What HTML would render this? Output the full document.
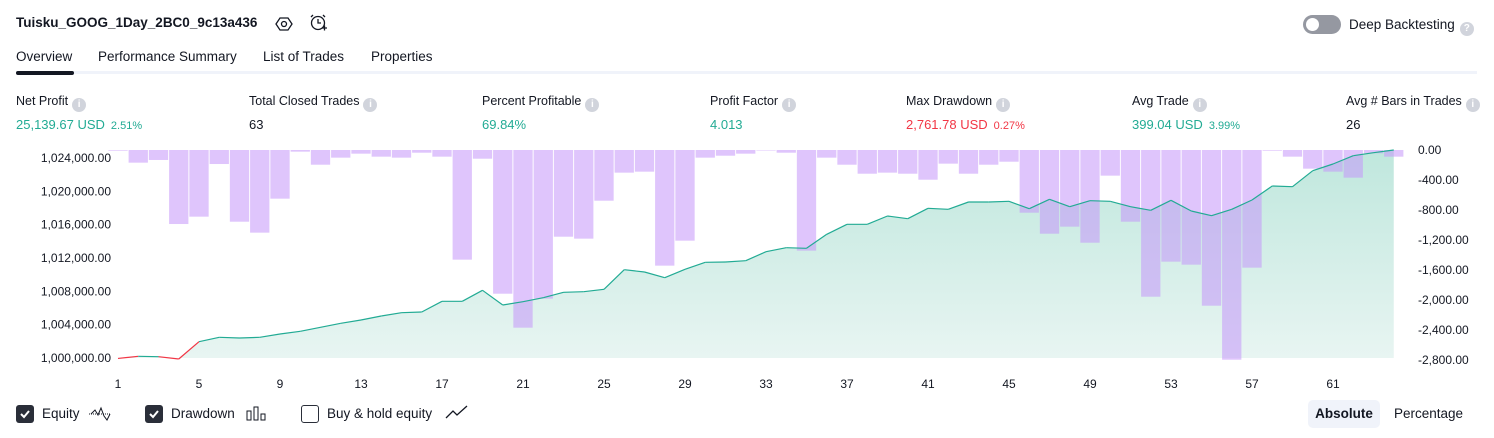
<!DOCTYPE html>
<html><head><meta charset="utf-8">
<style>
*{box-sizing:border-box;margin:0;padding:0}
body{width:1494px;height:438px;background:#fff;font-family:"Liberation Sans",sans-serif;color:#131722;position:relative;overflow:hidden}
.a{position:absolute;white-space:nowrap}
.lbl{font-size:12.5px}
.val{font-size:13px}
.g{color:#22ab94}.r{color:#f23645}
.sm{font-size:11px;margin-left:6px}
.info{display:inline-block;width:14px;height:14px;border-radius:50%;background:#d1d4dc;color:#fff;font-size:10px;font-weight:bold;text-align:center;line-height:14px;vertical-align:-2px;margin-left:4px}
.tab{font-size:13.5px;top:49px}
.cb{width:18px;height:18px;border-radius:3px;top:405px}
.ax{font-size:12px}
</style></head><body>
<div class="a" style="left:16px;top:15px;font-size:13.5px;font-weight:bold">Tuisku_GOOG_1Day_2BC0_9c13a436</div>
<svg class="a" style="left:275px;top:15px" width="18" height="18" viewBox="0 0 18 18"><path d="M5 3h8l4 6-4 6H5L1 9z" fill="none" stroke="#131722" stroke-width="1.3"/><circle cx="9" cy="9" r="2.5" fill="none" stroke="#131722" stroke-width="1.3"/></svg>
<svg class="a" style="left:308px;top:13px" width="20" height="20" viewBox="0 0 20 20"><circle cx="10" cy="10" r="6.5" fill="none" stroke="#131722" stroke-width="1.3"/><path d="M10 6v4h3M3 4l2-2M17 4l-2-2M14 15h5M16.5 12.5v5" stroke="#131722" stroke-width="1.3" fill="none"/></svg>
<div class="a" style="left:1303px;top:15px;width:38px;height:19px;border-radius:10px;background:#9598a1"><div style="position:absolute;left:3px;top:3px;width:13px;height:13px;border-radius:50%;background:#fff"></div></div>
<div class="a" style="left:1349px;top:17px;font-size:13.5px">Deep Backtesting<span class="info" style="margin-left:5px">?</span></div>
<div class="a tab" style="left:16px">Overview</div>
<div class="a tab" style="left:98px">Performance Summary</div>
<div class="a tab" style="left:263px">List of Trades</div>
<div class="a tab" style="left:371px">Properties</div>
<div class="a" style="left:16px;top:71px;width:1461px;height:3px;background:#f0f3fa"></div>
<div class="a" style="left:16px;top:71px;width:58px;height:4px;border-radius:2px;background:#131722"></div>

<div class="a" style="left:16px;top:94px"><div class="lbl">Net Profit<span class="info">i</span></div><div class="val g" style="margin-top:5px">25,139.67 USD<span class="sm">2.51%</span></div></div>
<div class="a" style="left:249px;top:94px"><div class="lbl">Total Closed Trades<span class="info">i</span></div><div class="val" style="margin-top:5px">63</div></div>
<div class="a" style="left:482px;top:94px"><div class="lbl">Percent Profitable<span class="info">i</span></div><div class="val g" style="margin-top:5px">69.84%</div></div>
<div class="a" style="left:710px;top:94px"><div class="lbl">Profit Factor<span class="info">i</span></div><div class="val g" style="margin-top:5px">4.013</div></div>
<div class="a" style="left:906px;top:94px"><div class="lbl">Max Drawdown<span class="info">i</span></div><div class="val r" style="margin-top:5px">2,761.78 USD<span class="sm">0.27%</span></div></div>
<div class="a" style="left:1132px;top:94px"><div class="lbl">Avg Trade<span class="info">i</span></div><div class="val g" style="margin-top:5px">399.04 USD<span class="sm">3.99%</span></div></div>
<div class="a" style="left:1346px;top:94px"><div class="lbl">Avg # Bars in Trades<span class="info">i</span></div><div class="val" style="margin-top:5px">26</div></div>

<svg id="chart" class="a" style="left:0;top:0" width="1494" height="438"></svg>

<div class="a cb" style="left:16px;background:#2a2e39"><svg width="18" height="18"><path d="M5 9l3 3 5-6" stroke="#fff" stroke-width="2" fill="none"/></svg></div>
<div class="a" style="left:42px;top:406px;font-size:13.5px">Equity</div>
<svg class="a" style="left:88px;top:405px" width="24" height="16"><path d="M1 9h22" stroke="#131722" stroke-dasharray="1 1"/><path d="M3 9l4-4 3 5 3-7 3 8 3 4 3-6" stroke="#131722" fill="none"/></svg>
<div class="a cb" style="left:145px;background:#2a2e39"><svg width="18" height="18"><path d="M5 9l3 3 5-6" stroke="#fff" stroke-width="2" fill="none"/></svg></div>
<div class="a" style="left:171px;top:406px;font-size:13.5px">Drawdown</div>
<svg class="a" style="left:246px;top:405px" width="20" height="16"><rect x="1" y="6" width="4" height="9" fill="none" stroke="#131722"/><rect x="8" y="2" width="4" height="13" fill="none" stroke="#131722"/><rect x="15" y="9" width="4" height="6" fill="none" stroke="#131722"/></svg>
<div class="a cb" style="left:301px;border:1.5px solid #2a2e39"></div>
<div class="a" style="left:327px;top:406px;font-size:13.5px">Buy &amp; hold equity</div>
<svg class="a" style="left:445px;top:404px" width="24" height="16"><path d="M1 14l7-7 4 4 10-9" stroke="#131722" stroke-width="1.3" fill="none"/></svg>
<div class="a" style="left:1308px;top:400px;width:72px;height:28px;border-radius:5px;background:#f0f3fa;font-size:13.5px;font-weight:bold;text-align:center;line-height:28px">Absolute</div>
<div class="a" style="left:1394px;top:406px;font-size:13.5px">Percentage</div>

<script>
const equity=[999950,1000204,1000156,999880,1001956,1002484,1002400,1002484,1002880,1003204,1003684,1004164,1004560,1005040,1005436,1005520,1006804,1006804,1008124,1006360,1006756,1007236,1007884,1007956,1008244,1010596,1010320,1009636,1010644,1011484,1011520,1011676,1012756,1013236,1013164,1014844,1016044,1016044,1017040,1016716,1017964,1017844,1018720,1018720,1018804,1017916,1019044,1018156,1018876,1018804,1018156,1017724,1018924,1017640,1017076,1017844,1018960,1020640,1020556,1022476,1023280,1024276,1024636,1024960];
const drawdown=[-9,-169,-133,-987,-889,-187,-956,-1102,-649,-22,-196,-102,-49,-89,-102,-36,-89,-1462,-116,-1916,-2369,-1982,-1156,-1182,-676,-302,-289,-1542,-1209,-102,-76,-49,-4,-36,-1342,-102,-196,-316,-302,-316,-396,-182,-316,-196,-156,-836,-1116,-1022,-1236,-342,-956,-1956,-1489,-1529,-2076,-2796,-1569,-9,-89,-249,-289,-369,-44,-89];
const leftTicks=[1000000,1004000,1008000,1012000,1016000,1020000,1024000];
const rightTicks=[0,-400,-800,-1200,-1600,-2000,-2400,-2800];
const xTicks=[1,5,9,13,17,21,25,29,33,37,41,45,49,53,57,61];
const initialCapital=1000000;

const NS='http://www.w3.org/2000/svg';
const svg=document.getElementById('chart');
const X0=118,STEP=20.25,BW=19.3;
const xs=i=>X0+i*STEP;
const yEq=v=>358-(v-1000000)*200/24000;
const yDd=v=>150-v*210/2800;
function mk(t,a){const e=document.createElementNS(NS,t);for(const k in a)e.setAttribute(k,a[k]);svg.appendChild(e);return e;}
const fmt=v=>v.toLocaleString('en-US',{minimumFractionDigits:2,maximumFractionDigits:2});

const defs=mk('defs',{});
defs.innerHTML='<linearGradient id="ag" x1="0" y1="0" x2="0" y2="1"><stop offset="0" stop-color="#bfe7dd"/><stop offset="1" stop-color="#e8f5f2"/></linearGradient>';
// area
let d='M'+xs(0)+' '+yEq(initialCapital);
equity.forEach((v,i)=>{d+=' L'+xs(i)+' '+Math.min(yEq(v),358);});
d+=' L'+xs(equity.length-1)+' 358 Z';
const area=mk('path',{d:d,fill:'url(#ag)'});


// bars
drawdown.forEach((v,i)=>{
  const r=mk('rect',{x:xs(i)-BW/2,y:yDd(0),width:BW,height:Math.max(0.5,yDd(v)-yDd(0)),fill:'rgba(196,150,250,0.55)'});
  
  
});
// line
for(let i=1;i<equity.length;i++){
  const red=equity[i]<initialCapital||equity[i-1]<initialCapital;
  const l=mk('line',{x1:xs(i-1),y1:yEq(equity[i-1]),x2:xs(i),y2:yEq(equity[i]),stroke:red?'#f23645':'#22ab94','stroke-width':1.2});
  
  
}
leftTicks.forEach(v=>{
  const t=mk('text',{x:111,y:yEq(v)+4,'text-anchor':'end','font-size':12,fill:'#131722','font-family':'Liberation Sans'});
  t.textContent=fmt(v);
  
  
});
rightTicks.forEach(v=>{
  const t=mk('text',{x:1418,y:yDd(v)+4,'font-size':12,fill:'#131722','font-family':'Liberation Sans'});
  t.textContent=fmt(v);
  
  
});
xTicks.forEach(k=>{
  const t=mk('text',{x:xs(k-1),y:388,'text-anchor':'middle','font-size':12,fill:'#131722','font-family':'Liberation Sans'});
  t.textContent=k;
  
  
});
</script>
</body></html>
